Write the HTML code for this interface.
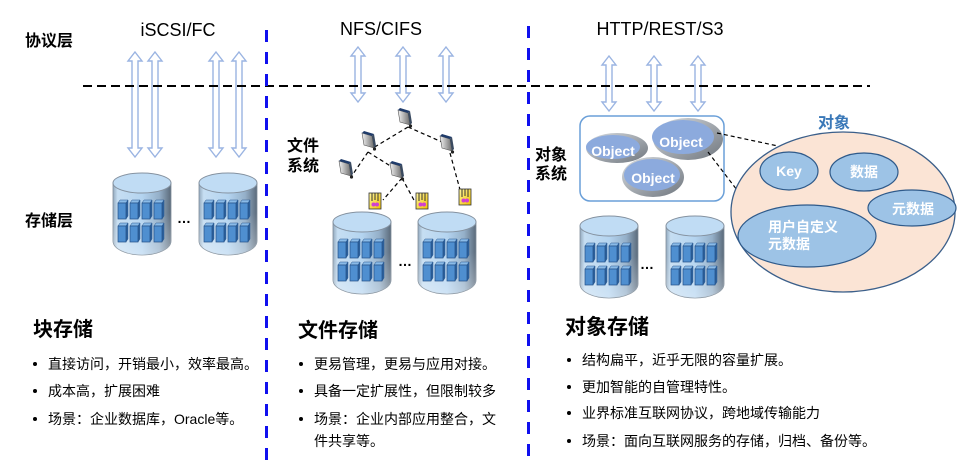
<!DOCTYPE html>
<html>
<head>
<meta charset="utf-8">
<style>
html,body{margin:0;padding:0;background:#fff;}
body{width:964px;height:464px;overflow:hidden;}
svg{display:block;}
.cn{font-family:"Liberation Sans","Noto Sans CJK SC",sans-serif;}
</style>
</head>
<body>
<svg width="964" height="464" viewBox="0 0 964 464" xmlns="http://www.w3.org/2000/svg" class="cn">
<defs>
  <linearGradient id="cylBody" x1="0" y1="0" x2="1" y2="0">
    <stop offset="0" stop-color="#93a9bd"/>
    <stop offset="0.08" stop-color="#c6def2"/>
    <stop offset="0.5" stop-color="#b4d4f0"/>
    <stop offset="0.8" stop-color="#94afc8"/>
    <stop offset="1" stop-color="#5b6a7a"/>
  </linearGradient>
  <linearGradient id="cylBot" x1="0" y1="0" x2="0" y2="1">
    <stop offset="0" stop-color="#ffffff" stop-opacity="0"/>
    <stop offset="1" stop-color="#ffffff" stop-opacity="0.35"/>
  </linearGradient>
  <linearGradient id="objGrey" x1="0" y1="0" x2="1" y2="1">
    <stop offset="0" stop-color="#d8dce0"/>
    <stop offset="1" stop-color="#6f767e"/>
  </linearGradient>
  <linearGradient id="srvGrad" x1="0" y1="0" x2="1" y2="0">
    <stop offset="0" stop-color="#f2f2f2"/>
    <stop offset="1" stop-color="#6d6d6d"/>
  </linearGradient>
  <linearGradient id="docGrad" x1="0" y1="0" x2="1" y2="1">
    <stop offset="0" stop-color="#fff7a0"/>
    <stop offset="1" stop-color="#f0c000"/>
  </linearGradient>
  <g id="blk">
    <polygon points="0,3 2,0 10,0 8,3" fill="#8abbe8" stroke="#2a578e" stroke-width="0.5"/>
    <polygon points="8,3 10,0 10,16 8,19" fill="#2c629e" stroke="#2a578e" stroke-width="0.5"/>
    <rect x="0" y="3" width="8" height="16" fill="#4f8fd0" stroke="#234f86" stroke-width="0.7"/>
  </g>
  <g id="cyl">
    <path d="M0,10 L0,68 A29,14 0 0 0 58,68 L58,10 Z" fill="url(#cylBody)" stroke="#7f8d9a" stroke-width="0.8"/>
    <path d="M0,40 L0,68 A29,14 0 0 0 58,68 L58,40 Z" fill="url(#cylBot)"/>
    <ellipse cx="29" cy="10" rx="29" ry="10" fill="#c0dcf4" stroke="#8592a0" stroke-width="1"/>
    <use href="#blk" x="5" y="27"/><use href="#blk" x="17" y="27"/><use href="#blk" x="29" y="27"/><use href="#blk" x="41" y="27"/>
    <use href="#blk" x="5" y="50"/><use href="#blk" x="17" y="50"/><use href="#blk" x="29" y="50"/><use href="#blk" x="41" y="50"/>
  </g>
  <g id="arrL">
    <path d="M0,0 L7,9 L3,9 L3,96 L7,96 L0,105 L-7,96 L-3,96 L-3,9 L-7,9 Z" fill="#fff" stroke="#9ab4e2" stroke-width="1.4"/>
  </g>
  <g id="arrS">
    <path d="M0,0 L7,9 L3,9 L3,46 L7,46 L0,55 L-7,46 L-3,46 L-3,9 L-7,9 Z" fill="#fff" stroke="#9ab4e2" stroke-width="1.4"/>
  </g>
  <g id="server">
    <polygon points="-6,-8 4,-5 6,7 -4,4" fill="url(#srvGrad)" stroke="#555" stroke-width="0.6"/>
    <polygon points="-6,-8 -4,-10 6,-7 4,-5" fill="#1f3b6a"/>
    <polygon points="4,-5 6,-7 8,5 6,7" fill="#3a4a60"/>
    <circle cx="6.5" cy="8" r="1.6" fill="#222"/>
  </g>
  <g id="docIcon">
    <rect x="-6" y="-8" width="12" height="16" fill="url(#docGrad)" stroke="#333" stroke-width="0.8"/>
    <path d="M-3,-8 L-3,0 M0,-8 L0,-1 M3,-8 L3,0" stroke="#333" stroke-width="1"/>
    <circle cx="-1.5" cy="3.5" r="2" fill="#d040d0"/>
    <circle cx="2" cy="3.5" r="2" fill="#d040d0"/>
  </g>
</defs>

<!-- left labels -->
<text x="25" y="46" font-size="16" font-weight="bold" fill="#000">协议层</text>
<text x="25" y="226" font-size="16" font-weight="bold" fill="#000">存储层</text>

<!-- protocol titles -->
<text x="178" y="36" font-size="18" text-anchor="middle" fill="#000">iSCSI/FC</text>
<text x="381" y="35" font-size="18" text-anchor="middle" fill="#000">NFS/CIFS</text>
<text x="660" y="35" font-size="18" text-anchor="middle" fill="#000">HTTP/REST/S3</text>

<!-- arrows -->
<use href="#arrL" x="135" y="52"/>
<use href="#arrL" x="155" y="52"/>
<use href="#arrL" x="216" y="52"/>
<use href="#arrL" x="239" y="52"/>
<use href="#arrS" x="358" y="47"/>
<use href="#arrS" x="403" y="47"/>
<use href="#arrS" x="446" y="47"/>
<use href="#arrS" x="609" y="56"/>
<use href="#arrS" x="654" y="56"/>
<use href="#arrS" x="698" y="56"/>

<!-- horizontal dashed -->
<line x1="83" y1="86" x2="870" y2="86" stroke="#000" stroke-width="2" stroke-dasharray="9 5"/>

<!-- vertical blue dashed -->
<line x1="266.5" y1="30" x2="266.5" y2="464" stroke="#1010ee" stroke-width="3" stroke-dasharray="12 10"/>
<line x1="528.5" y1="26" x2="528.5" y2="464" stroke="#1010ee" stroke-width="3" stroke-dasharray="12 10"/>

<!-- block cylinders -->
<use href="#cyl" x="113" y="173"/>
<use href="#cyl" x="199" y="173"/>
<text x="184" y="223" font-size="14" font-weight="bold" text-anchor="middle" fill="#000">…</text>

<!-- file system -->
<text x="287" y="151" font-size="16" font-weight="bold" fill="#000">文件</text>
<text x="287" y="171" font-size="16" font-weight="bold" fill="#000">系统</text>
<g stroke="#000" stroke-width="1.2" stroke-dasharray="4 3" fill="none">
  <line x1="408" y1="127" x2="373" y2="148"/>
  <line x1="408" y1="127" x2="442" y2="142"/>
  <line x1="368" y1="152" x2="351" y2="177"/>
  <line x1="368" y1="152" x2="392" y2="167"/>
  <line x1="402" y1="178" x2="383" y2="200"/>
  <line x1="402" y1="178" x2="415" y2="202"/>
  <line x1="450" y1="153" x2="462" y2="197"/>
</g>
<use href="#server" x="404" y="118"/>
<use href="#server" x="368" y="141"/>
<use href="#server" x="446" y="144"/>
<use href="#server" x="345" y="169"/>
<use href="#server" x="396" y="171"/>
<use href="#docIcon" x="375" y="201"/>
<use href="#docIcon" x="422" y="201"/>
<use href="#docIcon" x="465" y="197"/>
<use href="#cyl" x="333" y="212"/>
<use href="#cyl" x="418" y="212"/>
<text x="405" y="266" font-size="14" font-weight="bold" text-anchor="middle" fill="#000">…</text>

<!-- object system -->
<text x="535" y="160" font-size="16" font-weight="bold" fill="#000">对象</text>
<text x="535" y="179" font-size="16" font-weight="bold" fill="#000">系统</text>
<rect x="580" y="116" width="144" height="85" rx="10" fill="#fff" stroke="#6a9fd8" stroke-width="1.5"/>
<ellipse cx="617" cy="148" rx="31" ry="15" fill="url(#objGrey)"/>
<ellipse cx="613" cy="147" rx="27" ry="12" fill="#8caadd"/>
<text x="613" y="156" font-size="14" font-weight="bold" text-anchor="middle" fill="#fff">Object</text>
<ellipse cx="688" cy="139" rx="35" ry="21" fill="url(#objGrey)"/>
<ellipse cx="683" cy="137" rx="31" ry="17" fill="#8caadd"/>
<text x="681" y="147" font-size="14" font-weight="bold" text-anchor="middle" fill="#fff">Object</text>
<ellipse cx="653" cy="177" rx="31" ry="20" fill="url(#objGrey)"/>
<ellipse cx="652" cy="175" rx="28" ry="16" fill="#8caadd"/>
<text x="653" y="183" font-size="14" font-weight="bold" text-anchor="middle" fill="#fff">Object</text>

<use href="#cyl" x="580" y="216"/>
<use href="#cyl" x="666" y="216"/>
<text x="647" y="269" font-size="14" font-weight="bold" text-anchor="middle" fill="#000">…</text>

<!-- connectors to big object -->
<g stroke="#000" stroke-width="1.2" stroke-dasharray="4 3">
  <line x1="717" y1="133" x2="778" y2="146"/>
  <line x1="708" y1="152" x2="737" y2="190"/>
</g>

<!-- big object ellipse -->
<text x="834" y="128" font-size="16" font-weight="bold" text-anchor="middle" fill="#3a78b8">对象</text>
<ellipse cx="843" cy="212" rx="112" ry="80" fill="#fbe4d5" stroke="#3b5f8a" stroke-width="1.3"/>
<g fill="#9dc3e6" stroke="#2f5a8a" stroke-width="1.2">
  <ellipse cx="789" cy="171" rx="29" ry="19"/>
  <ellipse cx="864" cy="172" rx="34" ry="19"/>
  <ellipse cx="912" cy="208" rx="44" ry="18"/>
  <ellipse cx="807" cy="236" rx="69" ry="31"/>
</g>
<g font-size="14" font-weight="bold" fill="#fff">
  <text x="789" y="176" text-anchor="middle">Key</text>
  <text x="864" y="177" text-anchor="middle">数据</text>
  <text x="913" y="214" text-anchor="middle">元数据</text>
  <text x="768" y="232">用户自定义</text>
  <text x="768" y="249">元数据</text>
</g>

<!-- bottom texts: block -->
<text x="33" y="336" font-size="20" font-weight="bold" fill="#000">块存储</text>
<g font-size="14" fill="#000">
  <circle cx="35" cy="364" r="2"/><text x="48" y="369">直接访问，开销最小，效率最高。</text>
  <circle cx="35" cy="391" r="2"/><text x="48" y="396">成本高，扩展困难</text>
  <circle cx="35" cy="419" r="2"/><text x="48" y="424">场景：企业数据库，Oracle等。</text>
</g>

<!-- file -->
<text x="298" y="337" font-size="20" font-weight="bold" fill="#000">文件存储</text>
<g font-size="14" fill="#000">
  <circle cx="301" cy="364" r="2"/><text x="314" y="369">更易管理，更易与应用对接。</text>
  <circle cx="301" cy="391" r="2"/><text x="314" y="396">具备一定扩展性，但限制较多</text>
  <circle cx="301" cy="419" r="2"/><text x="314" y="424">场景：企业内部应用整合，文</text>
  <text x="314" y="446">件共享等。</text>
</g>

<!-- object -->
<text x="565" y="334" font-size="21" font-weight="bold" fill="#000">对象存储</text>
<g font-size="14" fill="#000">
  <circle cx="569" cy="360" r="2"/><text x="582" y="365">结构扁平，近乎无限的容量扩展。</text>
  <circle cx="569" cy="387" r="2"/><text x="582" y="392">更加智能的自管理特性。</text>
  <circle cx="569" cy="413" r="2"/><text x="582" y="418">业界标准互联网协议，跨地域传输能力</text>
  <circle cx="569" cy="441" r="2"/><text x="582" y="446">场景：面向互联网服务的存储，归档、备份等。</text>
</g>
</svg>
</body>
</html>
